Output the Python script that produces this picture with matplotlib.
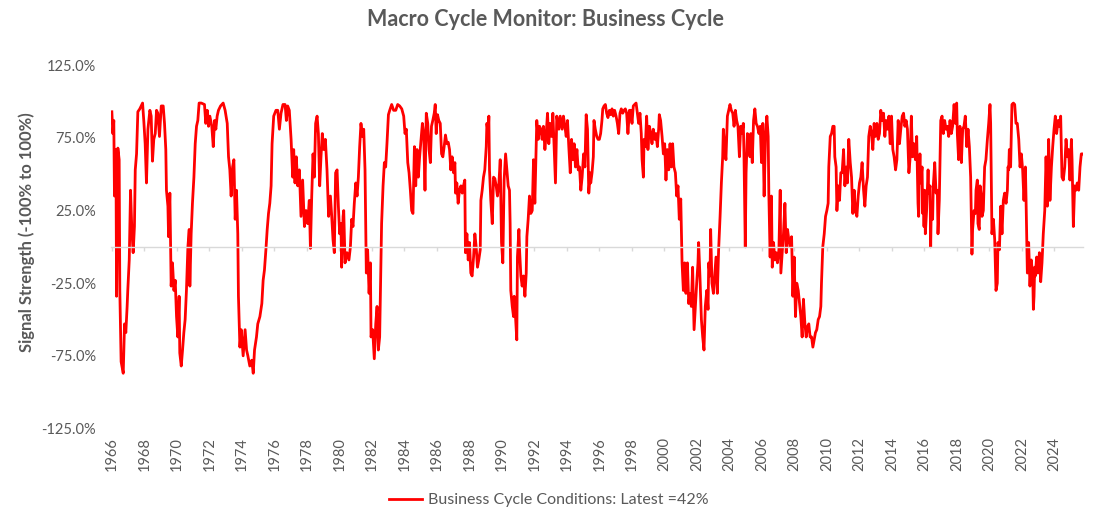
import numpy as np
import matplotlib
matplotlib.use('Agg')
import matplotlib.pyplot as plt
from matplotlib.ticker import FuncFormatter

# signal, in segments (decimal year, signal strength in %)
years_66_75 = [1966.00, 1966.06, 1966.12, 1966.16, 1966.25, 1966.29, 1966.37, 1966.45, 1966.49, 1966.57,
               1966.70, 1966.78, 1966.86, 1966.94, 1966.98, 1967.07, 1967.15, 1967.23, 1967.31, 1967.39,
               1967.44, 1967.52, 1967.60, 1967.72, 1967.89, 1967.97, 1968.05, 1968.13, 1968.22, 1968.34,
               1968.42, 1968.50, 1968.58, 1968.67, 1968.75, 1968.83, 1968.93, 1969.04, 1969.16, 1969.24,
               1969.32, 1969.36, 1969.45, 1969.49, 1969.57, 1969.65, 1969.73, 1969.82, 1969.90, 1969.98,
               1970.06, 1970.14, 1970.18, 1970.27, 1970.35, 1970.43, 1970.51, 1970.59, 1970.68, 1970.76,
               1970.80, 1970.88, 1970.96, 1971.05, 1971.13, 1971.21, 1971.29, 1971.37, 1971.50, 1971.70,
               1971.78, 1971.87, 1971.95, 1972.03, 1972.15, 1972.24, 1972.32, 1972.40, 1972.48, 1972.56,
               1972.69, 1972.85, 1972.97, 1973.10, 1973.18, 1973.26, 1973.34, 1973.43, 1973.51, 1973.59,
               1973.67, 1973.75, 1973.79, 1973.88, 1973.96, 1974.08, 1974.20, 1974.29, 1974.37, 1974.49,
               1974.61, 1974.70, 1974.78, 1974.90, 1974.98, 1975.11, 1975.23, 1975.31, 1975.39, 1975.48,
               1975.56, 1975.64, 1975.72, 1975.80]
signal_66_75 = [93, 78, 87, 35, 67, -34, 68, 60, -30, -79,
                -87, -53, -59, -41, -30, -9, 39, 12, -4, 14,
                53, 64, 93, 95, 99, 86, 71, 44, 81, 94,
                90, 59, 74, 78, 94, 92, 76, 97, 97, 85,
                67, 39, 28, 7, 37, -27, -11, -30, -23, -48,
                -62, -34, -73, -82, -71, -59, -50, -30, 0, 12,
                -27, 9, 30, 48, 71, 83, 87, 99, 99, 98,
                85, 94, 83, 90, 83, 69, 87, 81, 90, 94,
                97, 99, 94, 85, 62, 53, 35, 55, 60, 19,
                39, 9, -34, -69, -57, -75, -57, -71, -75, -82,
                -78, -87, -71, -62, -53, -48, -39, -23, -16, -2,
                12, 23, 30, 42]

years_75_85 = [1975.86, 1975.96, 1976.10, 1976.21, 1976.31, 1976.41, 1976.53, 1976.66, 1976.74, 1976.82,
               1976.92, 1977.03, 1977.13, 1977.19, 1977.27, 1977.35, 1977.44, 1977.54, 1977.64, 1977.74,
               1977.85, 1977.95, 1978.05, 1978.15, 1978.22, 1978.30, 1978.38, 1978.46, 1978.54, 1978.63,
               1978.71, 1978.79, 1978.87, 1978.95, 1979.04, 1979.14, 1979.24, 1979.34, 1979.45, 1979.53,
               1979.61, 1979.69, 1979.77, 1979.86, 1979.94, 1980.02, 1980.10, 1980.14, 1980.23, 1980.27,
               1980.35, 1980.47, 1980.59, 1980.68, 1980.76, 1980.84, 1980.92, 1981.01, 1981.09, 1981.17,
               1981.25, 1981.33, 1981.42, 1981.50, 1981.58, 1981.66, 1981.74, 1981.83, 1981.91, 1981.95,
               1982.05, 1982.15, 1982.24, 1982.32, 1982.40, 1982.48, 1982.56, 1982.60, 1982.69, 1982.77,
               1982.85, 1982.93, 1983.02, 1983.10, 1983.22, 1983.34, 1983.47, 1983.59, 1983.71, 1983.84,
               1983.96, 1984.04, 1984.12, 1984.21, 1984.29, 1984.37, 1984.45, 1984.53, 1984.62, 1984.70,
               1984.78, 1984.86, 1984.94, 1985.03, 1985.11, 1985.19, 1985.27, 1985.35, 1985.44, 1985.52,
               1985.60]
signal_75_85 = [71, 90, 94, 94, 81, 92, 98, 98, 87, 97,
                94, 74, 48, 67, 44, 62, 42, 53, 21, 46,
                14, 25, 16, 32, -1, 35, 64, 48, 85, 90,
                78, 42, 62, 78, 67, 74, 53, 21, 35, 21,
                5, -4, 51, 53, 28, 9, 16, -14, 21, 25,
                -11, -4, -9, 0, 19, 14, 30, 44, 35, 48,
                69, 85, 76, 81, 53, -18, -2, -32, -11, -62,
                -57, -77, -53, -41, -71, -62, -7, 16, 42, 58,
                55, 71, 91, 94, 98, 94, 94, 98, 97, 95,
                90, 78, 81, 58, 51, 39, 25, 23, 69, 42,
                67, 48, 62, 74, 85, 78, 39, 92, 85, 67,
                58]

years_85_95 = [1985.67, 1985.75, 1985.84, 1985.90, 1985.96, 1986.04, 1986.12, 1986.21, 1986.29, 1986.37,
               1986.45, 1986.53, 1986.62, 1986.70, 1986.78, 1986.86, 1986.94, 1987.03, 1987.11, 1987.15,
               1987.23, 1987.31, 1987.39, 1987.48, 1987.56, 1987.64, 1987.72, 1987.76, 1987.85, 1987.93,
               1988.01, 1988.09, 1988.17, 1988.26, 1988.34, 1988.42, 1988.50, 1988.58, 1988.67, 1988.71,
               1988.79, 1988.87, 1988.95, 1989.04, 1989.08, 1989.16, 1989.20, 1989.24, 1989.32, 1989.41,
               1989.49, 1989.57, 1989.65, 1989.73, 1989.82, 1989.90, 1989.98, 1990.06, 1990.14, 1990.23,
               1990.31, 1990.39, 1990.47, 1990.51, 1990.55, 1990.64, 1990.72, 1990.76, 1990.84, 1990.92,
               1990.96, 1991.05, 1991.09, 1991.17, 1991.25, 1991.33, 1991.42, 1991.50, 1991.54, 1991.62,
               1991.70, 1991.78, 1991.87, 1991.95, 1992.03, 1992.11, 1992.15, 1992.24, 1992.32, 1992.40,
               1992.48, 1992.56, 1992.65, 1992.73, 1992.81, 1992.89, 1992.97, 1993.06, 1993.14, 1993.22,
               1993.30, 1993.38, 1993.51, 1993.59, 1993.71, 1993.79, 1993.88, 1993.96, 1994.04, 1994.12,
               1994.21, 1994.29, 1994.37, 1994.45, 1994.53, 1994.62, 1994.70, 1994.78, 1994.86, 1994.94,
               1995.03, 1995.11, 1995.19, 1995.27, 1995.35, 1995.44]
signal_85_95 = [83, 87, 92, 98, 78, 91, 87, 85, 64, 62,
                69, 77, 71, 72, 67, 53, 62, 51, 58, 37,
                44, 30, 39, 42, 37, 42, 46, -4, 9, -9,
                3, -18, -20, -7, 9, 0, -14, -9, -2, 32,
                39, 48, 53, 69, 85, 78, 90, 53, 32, 16,
                48, 47, 42, 35, 44, 60, 3, -11, 46, 64,
                53, 42, 39, 16, -30, -41, -48, -34, -48, -64,
                -7, 12, -2, -20, -27, -20, -34, -18, 7, 19,
                35, 23, 25, 60, 30, 67, 87, 74, 83, 81,
                74, 83, 67, 78, 92, 71, 85, 76, 92, 67,
                44, 90, 81, 90, 81, 90, 83, 76, 87, 69,
                51, 74, 60, 71, 55, 67, 53, 55, 39, 48,
                64, 55, 91, 81, 37, 51]

years_95_05 = [1995.47, 1995.55, 1995.63, 1995.67, 1995.75, 1995.84, 1995.92, 1996.00, 1996.08, 1996.16,
               1996.21, 1996.29, 1996.37, 1996.45, 1996.53, 1996.62, 1996.70, 1996.78, 1996.86, 1996.94,
               1997.03, 1997.11, 1997.19, 1997.27, 1997.35, 1997.44, 1997.52, 1997.60, 1997.68, 1997.76,
               1997.85, 1997.93, 1998.01, 1998.09, 1998.17, 1998.26, 1998.34, 1998.42, 1998.50, 1998.58,
               1998.63, 1998.71, 1998.75, 1998.83, 1998.91, 1998.99, 1999.08, 1999.16, 1999.24, 1999.32,
               1999.41, 1999.49, 1999.57, 1999.65, 1999.69, 1999.77, 1999.86, 1999.94, 2000.02, 2000.10,
               2000.18, 2000.27, 2000.35, 2000.43, 2000.51, 2000.59, 2000.68, 2000.76, 2000.84, 2000.92,
               2001.01, 2001.09, 2001.17, 2001.25, 2001.33, 2001.42, 2001.50, 2001.58, 2001.66, 2001.74,
               2001.83, 2001.91, 2001.99, 2002.07, 2002.11, 2002.19, 2002.28, 2002.36, 2002.44, 2002.52,
               2002.61, 2002.69, 2002.73, 2002.81, 2002.85, 2002.93, 2003.02, 2003.10, 2003.18, 2003.26,
               2003.34, 2003.43, 2003.51, 2003.59, 2003.63, 2003.71, 2003.79, 2003.88, 2003.96, 2004.04,
               2004.12, 2004.21, 2004.29, 2004.37, 2004.45, 2004.53, 2004.62, 2004.70, 2004.78, 2004.86,
               2004.90, 2004.98, 2005.03, 2005.11, 2005.19, 2005.27]
signal_95_05 = [44, 51, 62, 87, 81, 76, 74, 74, 78, 87,
                95, 97, 98, 92, 89, 94, 91, 95, 90, 94,
                90, 85, 78, 92, 95, 92, 94, 95, 92, 78,
                94, 94, 85, 97, 98, 99, 92, 85, 92, 78,
                60, 48, 74, 69, 90, 67, 83, 78, 71, 81,
                74, 78, 69, 81, 91, 87, 76, 64, 71, 46,
                67, 53, 71, 55, 71, 55, 51, 35, 42, 19,
                33, -11, -30, -11, -32, -11, -39, -32, -41, -14,
                -57, -41, -25, -11, 3, -20, -50, -62, -71, -41,
                -30, -43, -11, -20, 12, -25, -32, -20, -7, -32,
                -2, 21, 44, 62, 81, 69, 60, 90, 94, 98,
                94, 92, 83, 94, 87, 83, 62, 83, 78, 85,
                64, 0, 51, 78, 71, 62]

years_05_15 = [2005.32, 2005.41, 2005.49, 2005.57, 2005.65, 2005.73, 2005.82, 2005.90, 2005.98, 2006.06,
               2006.14, 2006.23, 2006.31, 2006.39, 2006.43, 2006.51, 2006.59, 2006.64, 2006.72, 2006.80,
               2006.88, 2006.96, 2007.05, 2007.13, 2007.17, 2007.25, 2007.33, 2007.42, 2007.50, 2007.58,
               2007.66, 2007.74, 2007.83, 2007.91, 2007.99, 2008.07, 2008.15, 2008.24, 2008.32, 2008.40,
               2008.48, 2008.56, 2008.65, 2008.73, 2008.81, 2008.89, 2008.97, 2009.06, 2009.14, 2009.22,
               2009.30, 2009.38, 2009.47, 2009.55, 2009.63, 2009.67, 2009.75, 2009.84, 2009.92, 2010.00,
               2010.08, 2010.12, 2010.21, 2010.29, 2010.37, 2010.45, 2010.49, 2010.57, 2010.62, 2010.70,
               2010.78, 2010.86, 2010.94, 2011.03, 2011.11, 2011.19, 2011.27, 2011.35, 2011.44, 2011.52,
               2011.60, 2011.68, 2011.76, 2011.85, 2011.93, 2012.01, 2012.09, 2012.17, 2012.26, 2012.34,
               2012.42, 2012.50, 2012.58, 2012.67, 2012.75, 2012.83, 2012.91, 2012.99, 2013.08, 2013.16,
               2013.24, 2013.32, 2013.41, 2013.49, 2013.57, 2013.65, 2013.73, 2013.82, 2013.90, 2013.98,
               2014.06, 2014.14, 2014.23, 2014.31, 2014.39, 2014.47, 2014.55, 2014.64, 2014.72, 2014.80,
               2014.88, 2014.96, 2015.05, 2015.13]
signal_05_15 = [78, 58, 87, 95, 85, 83, 78, 83, 58, 85,
                35, 78, 90, 76, 37, -7, 35, -14, 3, -9,
                -4, -11, -2, 39, -18, -4, 9, 30, -4, 12,
                5, 0, 7, -34, -7, -48, -25, -30, -39, -48,
                -62, -36, -53, -62, -55, -53, -62, -62, -69, -64,
                -59, -57, -50, -48, -41, -25, 0, 9, 21, 25,
                30, 55, 76, 78, 83, 83, 62, 55, 25, 42,
                32, 51, 51, 67, 42, 55, 44, 74, 58, 48,
                23, 39, 25, 21, 35, 44, 48, 58, 39, 28,
                42, 48, 76, 83, 78, 67, 85, 76, 85, 74,
                78, 94, 87, 92, 76, 87, 81, 90, 71, 90,
                67, 62, 53, 60, 87, 71, 81, 90, 92, 83,
                87, 81, 51, 62]

years_15_25 = [2015.20, 2015.24, 2015.28, 2015.36, 2015.45, 2015.53, 2015.57, 2015.61, 2015.65, 2015.69,
               2015.73, 2015.77, 2015.86, 2015.90, 2015.94, 2015.98, 2016.02, 2016.06, 2016.14, 2016.23,
               2016.27, 2016.35, 2016.39, 2016.43, 2016.51, 2016.55, 2016.64, 2016.72, 2016.80, 2016.84,
               2016.92, 2016.96, 2017.01, 2017.09, 2017.17, 2017.25, 2017.33, 2017.42, 2017.50, 2017.58,
               2017.66, 2017.74, 2017.83, 2017.91, 2017.99, 2018.03, 2018.11, 2018.19, 2018.28, 2018.36,
               2018.44, 2018.52, 2018.61, 2018.69, 2018.77, 2018.85, 2018.89, 2018.93, 2018.97, 2019.06,
               2019.14, 2019.18, 2019.26, 2019.30, 2019.38, 2019.43, 2019.51, 2019.55, 2019.63, 2019.71,
               2019.79, 2019.88, 2019.96, 2020.04, 2020.08, 2020.12, 2020.16, 2020.25, 2020.33, 2020.41,
               2020.49, 2020.53, 2020.62, 2020.66, 2020.70, 2020.78, 2020.86, 2020.94, 2021.03, 2021.11,
               2021.15, 2021.19, 2021.23, 2021.31, 2021.39, 2021.48, 2021.56, 2021.64, 2021.72, 2021.81,
               2021.89, 2021.97, 2022.05, 2022.13, 2022.22, 2022.26, 2022.30, 2022.34, 2022.42, 2022.50,
               2022.58, 2022.67, 2022.71, 2022.75, 2022.79, 2022.83, 2022.91, 2022.99, 2023.08, 2023.16,
               2023.24, 2023.32, 2023.41, 2023.49, 2023.53, 2023.57, 2023.65, 2023.73, 2023.82, 2023.90,
               2023.98, 2024.06, 2024.14, 2024.23, 2024.31, 2024.39, 2024.47, 2024.55, 2024.64, 2024.72,
               2024.80, 2024.88, 2024.96, 2025.05, 2025.09, 2025.17, 2025.25, 2025.33, 2025.41, 2025.50,
               2025.58, 2025.66, 2025.70]
signal_15_25 = [90, 74, 62, 71, 60, 76, 51, 30, 21, 48,
                64, 44, 55, 23, 39, 14, 39, 9, 25, 53,
                37, 42, 0, 30, 19, 42, 58, 37, 39, 9,
                32, 58, 87, 90, 78, 87, 81, 83, 76, 87,
                78, 83, 98, 85, 99, 78, 60, 83, 58, 81,
                83, 90, 69, 81, 69, 48, 21, -5, 12, 25,
                23, 39, 46, 16, 12, 42, 35, 21, 25, 55,
                60, 74, 85, 98, 85, 44, 9, 19, 5, -30,
                -25, 3, -2, 12, 28, 9, 32, 37, 30, 39,
                55, 53, 67, 55, 98, 99, 98, 85, 85, 74,
                55, 64, 53, 32, 55, 32, 5, -18, 3, -27,
                -9, -20, -43, -34, -14, -20, -7, -18, -4, -24,
                -11, 9, 25, 62, 44, 28, 74, 32, 55, 69,
                81, 90, 78, 87, 83, 90, 48, 46, 55, 74,
                62, 67, 46, 74, 60, 14, 42, 39, 44, 39,
                55, 64, 64]

tick_years = list(range(1966, 2025, 2))
y_ticks = [-125, -75, -25, 25, 75, 125]

years = np.concatenate([years_66_75, years_75_85, years_85_95,
                        years_95_05, years_05_15, years_15_25])
signal = np.concatenate([signal_66_75, signal_75_85, signal_85_95,
                         signal_95_05, signal_05_15, signal_15_25])

plt.rcParams['font.family'] = ['Lato', 'DejaVu Sans']
grey = '#595959'

fig = plt.figure(figsize=(11.06, 5.26), dpi=100)
ax = fig.add_axes([0.1004, 0.1854, 0.8786, 0.6905])

line, = ax.plot(years, signal, color='#ff0000', lw=2.0)

ax.set_xlim(1965.95, 2025.75)
ax.set_ylim(-125, 125)

# horizontal axis sits on the zero line, labels stay at the bottom
for s in ['top', 'right', 'left']:
    ax.spines[s].set_visible(False)
ax.spines['bottom'].set_position(('data', 0))
ax.spines['bottom'].set_color('#d9d9d9')
ax.spines['bottom'].set_linewidth(1.0)

ax.set_xticks(tick_years)
ax.set_xticklabels([str(y) for y in tick_years], rotation=90)
ax.tick_params(axis='x', direction='out', length=3, width=1.0, color='#d9d9d9',
               pad=134, labelsize=10.5, labelcolor=grey)

ax.set_yticks(y_ticks)
ax.yaxis.set_major_formatter(FuncFormatter(lambda v, p: f'{v:.1f}%'))
ax.tick_params(axis='y', length=0, pad=11, labelsize=10.5, labelcolor=grey)

fig.text(0.0244, 1 - 232 / 526, 'Signal Strength (-100% to 100%)', rotation=90,
         ha='center', va='center', fontsize=12, fontweight='bold', color=grey)

fig.text(0.4932, 1 - 19 / 526, 'Macro Cycle Monitor: Business Cycle',
         ha='center', va='center', fontsize=15.5, fontweight='bold', color=grey)

fig.legend([line], ['Business Cycle Conditions: Latest =42%'], loc='center',
           bbox_to_anchor=(0.496, 1 - 500 / 526), frameon=False, fontsize=11.5,
           handlelength=2.1, handletextpad=0.35, labelcolor=grey)

fig.savefig('out.png', dpi=100)
